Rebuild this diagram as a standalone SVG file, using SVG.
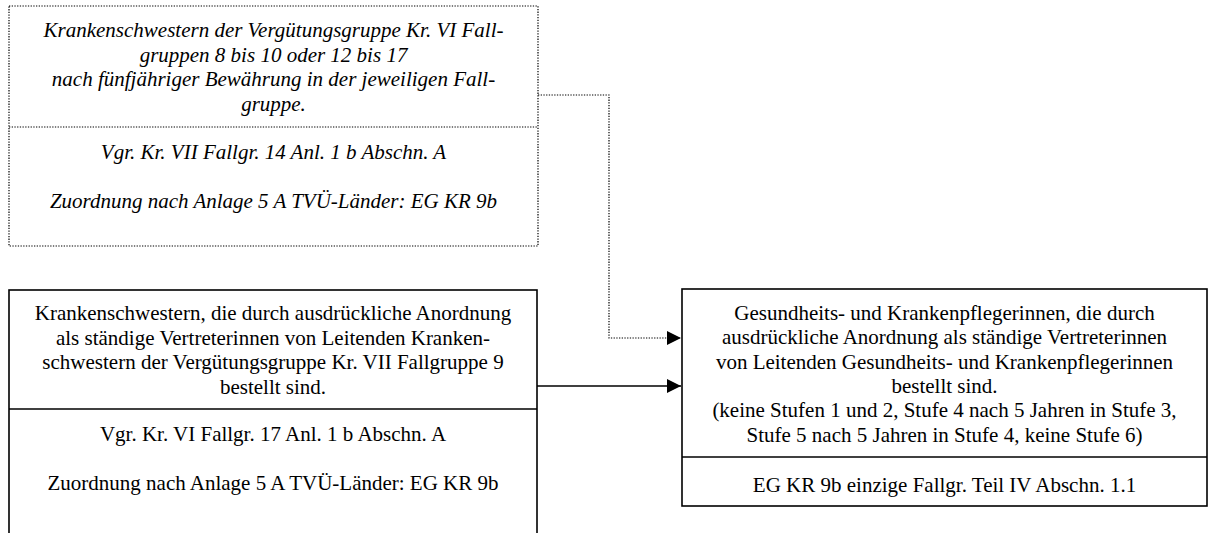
<svg xmlns="http://www.w3.org/2000/svg" width="1208" height="533" viewBox="0 0 1208 533">
<style>
.t{font-family:"Liberation Serif","Times New Roman",serif;font-size:21px;fill:#000;text-anchor:middle}
.i{font-style:italic}
.solid{fill:none;stroke:#000;stroke-width:1.6}
.dot{fill:none;stroke:#000;stroke-width:1.2;stroke-dasharray:1.3 1.4}
</style>
<defs>
<marker id="ah" viewBox="0 0 14 14" refX="14" refY="7" markerWidth="14" markerHeight="14" markerUnits="userSpaceOnUse" orient="auto">
<path d="M0,0 L14,7 L0,14 Z" fill="#000"/>
</marker>
</defs>
<rect width="1208" height="533" fill="#fff"/>
<g id="node-top">
<rect class="dot" x="9" y="6" width="529" height="240"/>
<line class="dot" x1="9" y1="127" x2="538" y2="127"/>
<text class="t i" x="273.5" y="37">Krankenschwestern der Vergütungsgruppe Kr. VI Fall-</text>
<text class="t i" x="273.5" y="61.5">gruppen 8 bis 10 oder 12 bis 17</text>
<text class="t i" x="273.5" y="86">nach fünfjähriger Bewährung in der jeweiligen Fall-</text>
<text class="t i" x="273.5" y="110.5">gruppe.</text>
<text class="t i" x="273.5" y="159">Vgr. Kr. VII Fallgr. 14 Anl. 1 b Abschn. A</text>
<text class="t i" x="273.5" y="208">Zuordnung nach Anlage 5 A TVÜ-Länder: EG KR 9b</text>
</g>
<g id="node-left">
<rect class="solid" x="9" y="290" width="528" height="280"/>
<line class="solid" x1="9" y1="409" x2="537" y2="409"/>
<text class="t" x="273" y="320">Krankenschwestern, die durch ausdrückliche Anordnung</text>
<text class="t" x="273" y="344.5">als ständige Vertreterinnen von Leitenden Kranken-</text>
<text class="t" x="273" y="369">schwestern der Vergütungsgruppe Kr. VII Fallgruppe 9</text>
<text class="t" x="273" y="393.5">bestellt sind.</text>
<text class="t" x="273" y="441">Vgr. Kr. VI Fallgr. 17 Anl. 1 b Abschn. A</text>
<text class="t" x="273" y="490">Zuordnung nach Anlage 5 A TVÜ-Länder: EG KR 9b</text>
</g>
<g id="node-right">
<rect class="solid" x="682" y="289" width="525" height="217"/>
<line class="solid" x1="682" y1="457" x2="1207" y2="457"/>
<text class="t" x="944.5" y="319.5">Gesundheits- und Krankenpflegerinnen, die durch</text>
<text class="t" x="944.5" y="344">ausdrückliche Anordnung als ständige Vertreterinnen</text>
<text class="t" x="944.5" y="368.5">von Leitenden Gesundheits- und Krankenpflegerinnen</text>
<text class="t" x="944.5" y="393">bestellt sind.</text>
<text class="t" x="944.5" y="417">(keine Stufen 1 und 2, Stufe 4 nach 5 Jahren in Stufe 3,</text>
<text class="t" x="944.5" y="441.5">Stufe 5 nach 5 Jahren in Stufe 4, keine Stufe 6)</text>
<text class="t" x="944.5" y="492">EG KR 9b einzige Fallgr. Teil IV Abschn. 1.1</text>
</g>
<g id="connectors">
<polyline class="dot" points="538,95 609,95 609,338 681,338" marker-end="url(#ah)"/>
<line class="solid" x1="537" y1="386" x2="681" y2="386" marker-end="url(#ah)"/>
</g>
</svg>
